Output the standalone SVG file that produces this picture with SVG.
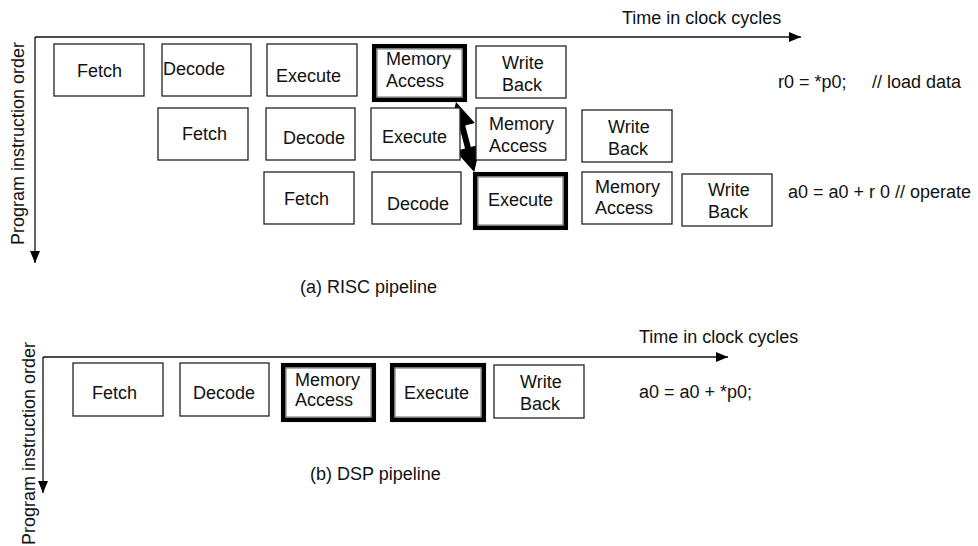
<svg xmlns="http://www.w3.org/2000/svg" width="978" height="546" viewBox="0 0 978 546">
<style>
  text { font-family: "Liberation Sans", Arial, Helvetica, sans-serif; font-size: 18px; fill: #111; }
  .box { fill: #fff; stroke: #222; stroke-width: 1.3; }
  .thick { fill: #fff; stroke: #000; stroke-width: 4.5; }
  .inner { fill: none; stroke: #666; stroke-width: 1; }
  .axis { fill: none; stroke: #111; stroke-width: 1.3; }
</style>
<defs>
  <marker id="ah" viewBox="0 0 12 10" refX="12" refY="5" markerWidth="12" markerHeight="10" markerUnits="userSpaceOnUse" orient="auto">
    <path d="M0,0 L12,5 L0,10 Z" fill="#000"/>
  </marker>
</defs>
<rect width="978" height="546" fill="#fff"/>

<g id="connectors">
  <line class="axis" x1="35" y1="37" x2="801" y2="37" marker-end="url(#ah)"/>
  <line class="axis" x1="35" y1="37" x2="35" y2="263" marker-end="url(#ah)"/>
  <line class="axis" x1="43" y1="357" x2="728" y2="357" marker-end="url(#ah)"/>
  <line class="axis" x1="43" y1="357" x2="43" y2="493" marker-end="url(#ah)"/>
  <g id="dependency" transform="translate(456,102) rotate(75.38)">
    <polygon points="0,0 25,-13 25,-3 47.3,-3 47.3,-13 72.3,0 47.3,13 47.3,3 25,3 25,13" fill="#000"/>
  </g>
</g>

<g id="labels-a">
  <text x="622" y="24">Time in clock cycles</text>
  <text transform="translate(24,245) rotate(-90)">Program instruction order</text>
  <text x="778" y="88">r0 = *p0;<tspan x="872">// load data</tspan></text>
  <text x="788" y="198">a0 = a0 + r 0 // operate</text>
  <text x="300" y="293">(a) RISC pipeline</text>
</g>

<!-- Row 1 -->
<g id="r1-fetch"><rect class="box" x="54" y="44" width="90" height="52"/><text x="77" y="77">Fetch</text></g>
<g id="r1-decode"><rect class="box" x="162" y="44" width="89" height="52"/><text x="163" y="75">Decode</text></g>
<g id="r1-execute"><rect class="box" x="267" y="44" width="90" height="52"/><text x="276" y="82">Execute</text></g>
<g id="r1-memory"><rect class="thick" x="374.2" y="46.2" width="90.6" height="53.6"/><rect class="inner" x="377" y="49" width="85" height="48"/><text x="386" y="65">Memory</text><text x="386" y="87">Access</text></g>
<g id="r1-writeback"><rect class="box" x="476" y="46" width="90" height="52"/><text x="502" y="69">Write</text><text x="502" y="91">Back</text></g>

<!-- Row 2 -->
<g id="r2-fetch"><rect class="box" x="158" y="108" width="90" height="52"/><text x="182" y="140">Fetch</text></g>
<g id="r2-decode"><rect class="box" x="266" y="108" width="89" height="52"/><text x="283" y="144">Decode</text></g>
<g id="r2-execute"><rect class="box" x="371" y="108" width="89" height="52"/><text x="382" y="143">Execute</text></g>
<g id="r2-memory"><rect class="box" x="476" y="108" width="90" height="52"/><text x="489" y="130">Memory</text><text x="489" y="152">Access</text></g>
<g id="r2-writeback"><rect class="box" x="582" y="110" width="90" height="52"/><text x="608" y="133">Write</text><text x="608" y="155">Back</text></g>

<!-- Row 3 -->
<g id="r3-fetch"><rect class="box" x="264" y="172" width="90" height="52"/><text x="284" y="205">Fetch</text></g>
<g id="r3-decode"><rect class="box" x="372" y="172" width="89" height="52"/><text x="387" y="210">Decode</text></g>
<g id="r3-execute"><rect class="thick" x="475.2" y="174.2" width="90.6" height="53.6"/><rect class="inner" x="478" y="177" width="85" height="48"/><text x="488" y="206">Execute</text></g>
<g id="r3-memory"><rect class="box" x="582" y="172" width="90" height="52"/><text x="595" y="193">Memory</text><text x="595" y="214">Access</text></g>
<g id="r3-writeback"><rect class="box" x="682" y="174" width="90" height="52"/><text x="708" y="196">Write</text><text x="708" y="218">Back</text></g>

<g id="labels-b">
  <text x="639" y="343">Time in clock cycles</text>
  <text transform="translate(35,545) rotate(-90)">Program instruction order</text>
  <text x="639" y="398">a0 = a0 + *p0;</text>
  <text x="310" y="480">(b) DSP pipeline</text>
</g>

<!-- DSP row -->
<g id="b-fetch"><rect class="box" x="73" y="363" width="90" height="53"/><text x="92" y="399">Fetch</text></g>
<g id="b-decode"><rect class="box" x="180" y="363" width="89" height="53"/><text x="193" y="399">Decode</text></g>
<g id="b-memory"><rect class="thick" x="283.2" y="365.2" width="90.6" height="54.6"/><rect class="inner" x="286" y="368" width="85" height="49"/><text x="295" y="386">Memory</text><text x="295" y="406">Access</text></g>
<g id="b-execute"><rect class="thick" x="392.2" y="365.2" width="91.6" height="54.6"/><rect class="inner" x="395" y="368" width="86" height="49"/><text x="404" y="399">Execute</text></g>
<g id="b-writeback"><rect class="box" x="494" y="365" width="90" height="53"/><text x="520" y="410" dy="-22">Write</text><text x="520" y="410">Back</text></g>
</svg>
